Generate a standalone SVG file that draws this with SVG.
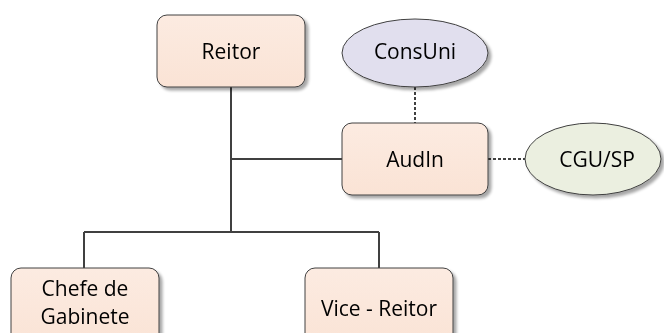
<svg xmlns="http://www.w3.org/2000/svg" width="664" height="333" viewBox="0 0 664 333">
<style>
.box{fill:url(#peach);stroke:#404040;stroke-width:1}
.lbl{font-family:"Open Sans","Liberation Sans",Arial,sans-serif;font-size:21px;fill:#000;text-anchor:middle}
.ln{stroke:#404040;stroke-width:2;fill:none}
.dot{stroke:#404040;stroke-width:2;fill:none;stroke-dasharray:3 2}
</style>
<defs>
<linearGradient id="peach" x1="0" y1="0" x2="0" y2="1">
<stop offset="0" stop-color="#FCEBE1"/>
<stop offset="1" stop-color="#FAE3D5"/>
</linearGradient>
<filter id="sh" x="-10%" y="-10%" width="130%" height="130%">
<feGaussianBlur in="SourceAlpha" stdDeviation="1.5"/>
<feOffset dx="3" dy="3" result="b"/>
<feComponentTransfer><feFuncA type="linear" slope="0.35"/></feComponentTransfer>
<feMerge><feMergeNode/><feMergeNode in="SourceGraphic"/></feMerge>
</filter>
</defs>
<rect width="664" height="333" fill="#fff"/>
<g id="connectors">
<path class="ln" d="M231 87 V232 M231 159 H342 M84 232 H379 M84 232 V268 M379 232 V268"/>
<path class="dot" d="M415 87 V123 M488 159 H525"/>
</g>
<g id="reitor" filter="url(#sh)">
<rect class="box" x="157" y="15" width="148" height="72" rx="10"/>
<text class="lbl" x="231" y="59">Reitor</text>
</g>
<g id="consuni" filter="url(#sh)">
<ellipse cx="415" cy="53" rx="73" ry="34" fill="#E1DFEE" stroke="#404040" stroke-width="1"/>
<text class="lbl" x="415" y="59">ConsUni</text>
</g>
<g id="audin" filter="url(#sh)">
<rect class="box" x="342" y="123" width="146" height="72" rx="10"/>
<text class="lbl" x="415" y="167">AudIn</text>
</g>
<g id="cgusp" filter="url(#sh)">
<ellipse cx="593" cy="159" rx="68" ry="36" fill="#EBEFE0" stroke="#404040" stroke-width="1"/>
<text class="lbl" x="597" y="167">CGU/SP</text>
</g>
<g id="chefe" filter="url(#sh)">
<rect class="box" x="11" y="268" width="148" height="80" rx="10"/>
<text class="lbl" x="85" y="296">Chefe de</text>
<text class="lbl" x="85" y="324">Gabinete</text>
</g>
<g id="vice" filter="url(#sh)">
<rect class="box" x="305" y="268" width="148" height="80" rx="10"/>
<text class="lbl" x="379" y="316">Vice - Reitor</text>
</g>
</svg>
